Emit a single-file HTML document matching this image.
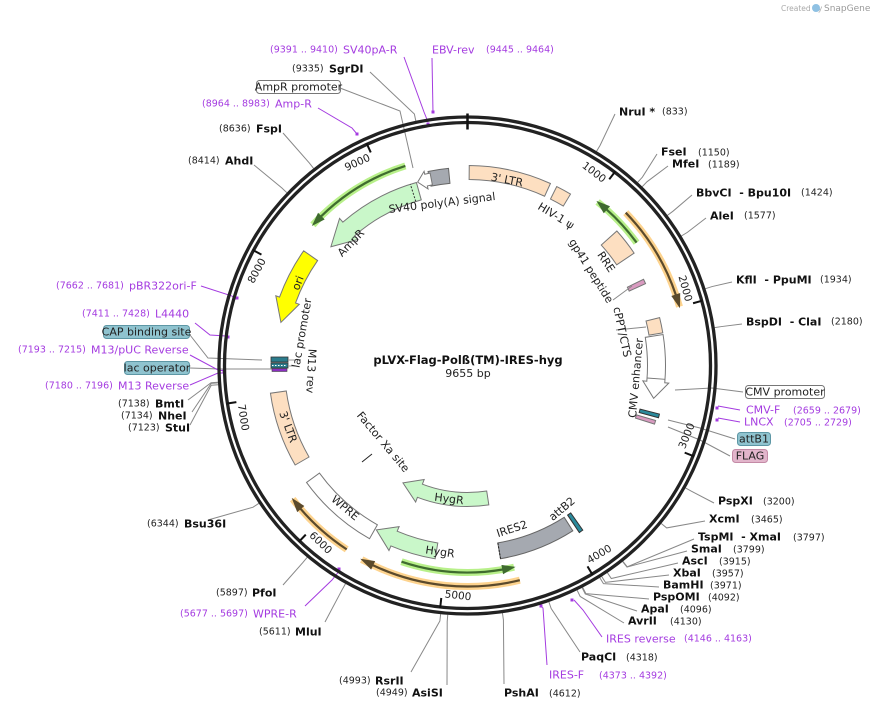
<!DOCTYPE html>
<html><head><meta charset="utf-8">
<style>
html,body{margin:0;padding:0;background:#fff;}
svg{display:block;font-family:"DejaVu Sans","Liberation Sans",sans-serif;}
.n{font-size:9.5px;fill:#222;}
.b{font-size:11px;font-weight:bold;fill:#111;}
.p{font-size:11px;fill:#a43be0;}
.pn{font-size:9.5px;fill:#a43be0;}
.f{font-size:11px;fill:#222;}
.t{font-size:10.5px;fill:#222;}
</style></head>
<body>
<svg id="s" width="879" height="710" viewBox="0 0 879 710" xmlns="http://www.w3.org/2000/svg">
<g id="g"></g>
<text x="781" y="11" style="font-size:7.5px;fill:#aaa">Created by</text>
<text x="824" y="11" style="font-size:9px;fill:#999">SnapGene</text>
<circle cx="816" cy="8" r="4" fill="#8fc1e3"/>
<text x="468" y="364" text-anchor="middle" style="font-size:11.5px;font-weight:bold;fill:#111">pLVX-Flag-Polß(TM)-IRES-hyg</text>
<text x="468" y="377" text-anchor="middle" style="font-size:11px;fill:#222">9655 bp</text>

<g dominant-baseline="central">
<text x="270" y="50" class="pn">(9391 .. 9410)</text><text x="343" y="50" class="p">SV40pA-R</text>
<text x="432" y="50" class="p">EBV-rev</text><text x="486" y="50" class="pn">(9445 .. 9464)</text>
<text x="292" y="69" class="n">(9335)</text><text x="329" y="69" class="b">SgrDI</text>
<text x="202" y="104" class="pn">(8964 .. 8983)</text><text x="275" y="104" class="p">Amp-R</text>
<text x="219" y="129" class="n">(8636)</text><text x="256" y="129" class="b">FspI</text>
<text x="188" y="161" class="n">(8414)</text><text x="225" y="161" class="b">AhdI</text>
<text x="619" y="112" class="b">NruI *</text><text x="662" y="112" class="n">(833)</text>
<text x="661" y="152" class="b">FseI</text><text x="698" y="153" class="n">(1150)</text>
<text x="672" y="164" class="b">MfeI</text><text x="708" y="165" class="n">(1189)</text>
<text x="696" y="193" class="b">BbvCI&#160;&#160;- Bpu10I</text><text x="801" y="193" class="n">(1424)</text>
<text x="710" y="216" class="b">AleI</text><text x="744" y="216" class="n">(1577)</text>
<text x="736" y="280" class="b">KflI&#160;&#160;- PpuMI</text><text x="820" y="280" class="n">(1934)</text>
<text x="746" y="322" class="b">BspDI&#160;&#160;- ClaI</text><text x="831" y="322" class="n">(2180)</text>
<text x="746" y="410" class="p">CMV-F</text><text x="793" y="411" class="pn">(2659 .. 2679)</text>
<text x="744" y="422" class="p">LNCX</text><text x="784" y="423" class="pn">(2705 .. 2729)</text>
<text x="718" y="501" class="b">PspXI</text><text x="763" y="502" class="n">(3200)</text>
<text x="709" y="519" class="b">XcmI</text><text x="751" y="520" class="n">(3465)</text>
<text x="698" y="537" class="b">TspMI&#160;&#160;- XmaI</text><text x="793" y="538" class="n">(3797)</text>
<text x="691" y="549" class="b">SmaI</text><text x="733" y="550" class="n">(3799)</text>
<text x="682" y="561" class="b">AscI</text><text x="719" y="562" class="n">(3915)</text>
<text x="673" y="573" class="b">XbaI</text><text x="712" y="574" class="n">(3957)</text>
<text x="663" y="585" class="b">BamHI</text><text x="710" y="586" class="n">(3971)</text>
<text x="653" y="597" class="b">PspOMI</text><text x="708" y="598" class="n">(4092)</text>
<text x="641" y="609" class="b">ApaI</text><text x="680" y="610" class="n">(4096)</text>
<text x="628" y="621" class="b">AvrII</text><text x="670" y="622" class="n">(4130)</text>
<text x="606" y="639" class="p">IRES reverse</text><text x="684" y="639" class="pn">(4146 .. 4163)</text>
<text x="581" y="657" class="b">PaqCI</text><text x="626" y="658" class="n">(4318)</text>
<text x="549" y="675" class="p">IRES-F</text><text x="599" y="676" class="pn">(4373 .. 4392)</text>
<text x="504" y="693" class="b">PshAI</text><text x="549" y="694" class="n">(4612)</text>
<text x="339" y="681" class="n">(4993)</text><text x="375" y="681" class="b">RsrII</text>
<text x="376" y="693" class="n">(4949)</text><text x="412" y="693" class="b">AsiSI</text>
<text x="259" y="632" class="n">(5611)</text><text x="295" y="632" class="b">MluI</text>
<text x="180" y="614" class="pn">(5677 .. 5697)</text><text x="253" y="614" class="p">WPRE-R</text>
<text x="216" y="593" class="n">(5897)</text><text x="252" y="593" class="b">PfoI</text>
<text x="147" y="524" class="n">(6344)</text><text x="184" y="524" class="b">Bsu36I</text>
<text x="118" y="404" class="n">(7138)</text><text x="155" y="404" class="b">BmtI</text>
<text x="121" y="416" class="n">(7134)</text><text x="158" y="416" class="b">NheI</text>
<text x="128" y="428" class="n">(7123)</text><text x="165" y="428" class="b">StuI</text>
<text x="45" y="386" class="pn">(7180 .. 7196)</text><text x="118" y="386" class="p">M13 Reverse</text>
<text x="18" y="350" class="pn">(7193 .. 7215)</text><text x="91" y="350" class="p">M13/pUC Reverse</text>
<text x="82" y="314" class="pn">(7411 .. 7428)</text><text x="155" y="314" class="p">L4440</text>
<text x="56" y="286" class="pn">(7662 .. 7681)</text><text x="129" y="286" class="p">pBR322ori-F</text>
</g>

<rect x="256.5" y="80.5" width="84" height="13" rx="3" fill="#fff" stroke="#777"/>
<text x="298.5" y="87" text-anchor="middle" dominant-baseline="central" class="f">AmpR promoter</text>
<rect x="745.5" y="385.5" width="79" height="13" rx="3" fill="#fff" stroke="#777"/>
<text x="785" y="392" text-anchor="middle" dominant-baseline="central" class="f">CMV promoter</text>
<rect x="737.5" y="432.5" width="33" height="13" rx="3" fill="#8fc3cf" stroke="#5d97a5"/>
<text x="754" y="439" text-anchor="middle" dominant-baseline="central" class="f">attB1</text>
<rect x="732.5" y="449.5" width="35" height="13" rx="3" fill="#e2b5cb" stroke="#c48aa6"/>
<text x="750" y="456" text-anchor="middle" dominant-baseline="central" class="f">FLAG</text>
<rect x="103.5" y="325.5" width="86" height="13" rx="3" fill="#8fc3cf" stroke="#5d97a5"/>
<text x="146.5" y="332" text-anchor="middle" dominant-baseline="central" class="f">CAP binding site</text>
<rect x="124.5" y="361.5" width="65" height="13" rx="3" fill="#8fc3cf" stroke="#5d97a5"/>
<text x="157" y="368" text-anchor="middle" dominant-baseline="central" class="f">lac operator</text>

<g class="t" text-anchor="middle" dominant-baseline="central" id="tk">
<text transform="translate(597,170) rotate(37.3)">1000</text>
<text transform="translate(684,286) rotate(74.6)">2000</text>
<text transform="translate(686,440) rotate(-68)">3000</text>
<text transform="translate(603,553) rotate(-31)">4000</text>
<text transform="translate(458,596) rotate(6.4)">5000</text>
<text transform="translate(318,542) rotate(43.7)">6000</text>
<text transform="translate(241,417) rotate(81)">7000</text>
<text transform="translate(256,264) rotate(-61.7)">8000</text>
<text transform="translate(357,161) rotate(-24.4)">9000</text>
</g>

<g class="f" text-anchor="middle" dominant-baseline="central">
<text transform="translate(507,180) rotate(11)">3' LTR</text>
<text transform="translate(556,216) rotate(31)">HIV-1 ψ</text>
<text transform="translate(442,203) rotate(-7)">SV40 poly(A) signal</text>
<text transform="translate(351,243) rotate(-46)">AmpR</text>
<text transform="translate(298,283) rotate(-68)">ori</text>
<text transform="translate(302,333) rotate(-80)">lac promoter</text>
<text transform="translate(311,371) rotate(93)">M13 rev</text>
<text transform="translate(288,427) rotate(70)">3' LTR</text>
<text transform="translate(345,508) rotate(40)">WPRE</text>
<text transform="translate(440,552) rotate(8)">HygR</text>
<text transform="translate(512,529) rotate(-18)">IRES2</text>
<text transform="translate(562,509) rotate(-40)">attB2</text>
<text transform="translate(449,499) rotate(7)">HygR</text>
<text transform="translate(383,442) rotate(50)">Factor Xa site</text>
<text transform="translate(606,262) rotate(56)">RRE</text>
<text transform="translate(591,271) rotate(58)">gp41 peptide</text>
<text transform="translate(622,332) rotate(78)">cPPT/CTS</text>
<text transform="translate(636,378) rotate(-85)">CMV enhancer</text>
</g>
</svg>
<script>
(function(){
var NS="http://www.w3.org/2000/svg",g=document.getElementById('g');
var cx=467.5,cy=365.5;
function P(r,a){a=a*Math.PI/180;return [cx+r*Math.sin(a),cy-r*Math.cos(a)];}
function s(p){return p[0].toFixed(2)+' '+p[1].toFixed(2);}
function el(t,at){var e=document.createElementNS(NS,t);for(var k in at)e.setAttribute(k,at[k]);g.appendChild(e);return e;}
function arc(r,a1,a2){var l=Math.abs(a2-a1)>180?1:0,sw=a2>a1?1:0;return ' A'+r+' '+r+' 0 '+l+' '+sw+' '+s(P(r,a2));}
function band(r1,r2,a1,a2,fill,st){return el('path',{d:'M'+s(P(r2,a1))+arc(r2,a1,a2)+' L'+s(P(r1,a2))+arc(r1,a2,a1)+'Z',fill:fill,stroke:st||'#777','stroke-width':1});}
function arrow(r1,r2,tail,head,hl,fill,st,e){e=e||4;var d=head>tail?1:-1,nk=head-d*hl,m=(r1+r2)/2;
 return el('path',{d:'M'+s(P(r2,tail))+arc(r2,tail,nk)+' L'+s(P(r2+e,nk))+' L'+s(P(m,head))+' L'+s(P(r1-e,nk))+' L'+s(P(r1,nk))+arc(r1,nk,tail)+'Z',fill:fill,stroke:st||'#777','stroke-width':1});}
function primer(r,tail,head,halo,core){var d=head>tail?1:-1,nk=head-d*3.2;
 el('path',{d:'M'+s(P(r,tail))+arc(r,tail,head),fill:'none',stroke:halo,'stroke-width':7});
 el('path',{d:'M'+s(P(r,tail))+arc(r,tail,nk),fill:'none',stroke:core,'stroke-width':2.2});
 el('path',{d:'M'+s(P(r-4,nk))+' L'+s(P(r,head))+' L'+s(P(r+4,nk))+'Z',fill:core,stroke:core,'stroke-width':1});}
function line(a,b,c,w){return el('line',{x1:a[0],y1:a[1],x2:b[0],y2:b[1],stroke:c||'#777','stroke-width':w||1});}
function poly(pts,c,w){return el('polyline',{points:pts.map(s).join(' '),fill:'none',stroke:c||'#777','stroke-width':w||1});}
function A(pos){return pos/9655*360;}
var GR='#c9f7c9',PE='#fddfc1',GHalo='#b8f08a',GCore='#3f6b2f',OHalo='#fdd38e',OCore='#5b4a2c';

// tick labels positioning
var tks=document.getElementById('tk').getElementsByTagName('text');
for(var k=0;k<tks.length;k++){var a=A((k+1)*1000),rad=a*Math.PI/180;
 var tx=Math.cos(rad),ty=Math.sin(rad);var p=P(230,a);var x=p[0]-3*tx,y=p[1]-3*ty;
 var top=(a<90||a>270);
 tks[k].setAttribute('text-anchor',top?'end':'start');
 tks[k].setAttribute('transform','translate('+x.toFixed(2)+','+y.toFixed(2)+') rotate('+(top?a:a-180).toFixed(2)+')');}

var enz=[[833,[615,114]],[1150,[657,154]],[1189,[668,166]],[1424,[692,195]],[1577,[706,218]],[1934,[732,282]],[2180,[742,324]],
[3200,[714,503]],[3465,[705,521]],[3797,[694,539]],[3799,[687,551]],[3915,[678,563]],[3957,[669,575]],[3971,[659,587]],[4092,[649,599]],[4096,[637,611]],[4130,[624,623]],
[4318,[580,652]],[4612,[504,684]],[4993,[411,672]],[4949,[447,685]],[5611,[325,622]],[5897,[283,585]],[6344,[208,520]],
[7138,[188,400]],[7134,[192,412]],[7123,[190,425]],[8414,[254,165]],[8636,[283,133]],[9335,[370,72]]];
enz.forEach(function(e){var a=A(e[0]);var p1=P(250,a),p2=P(257,a);poly([p1,p2,e[1]],'#888',1);});
poly([[340,88],[400,111],[413,168]],'#888');
poly([[743,392],[712,388],[675,390]],'#888');
poly([[735,439],[700,428],[668,420]],'#888');
poly([[730,456],[700,440],[668,427]],'#888');
poly([[190,335],[208,358],[262,360]],'#888');
poly([[190,368],[220,369],[272,369]],'#888');
var PU='#a43be0';
poly([[404,57],[424,112],[428,122]],PU);
poly([[432,58],[433,113]],PU);
poly([[318,108],[352,128],[357,134]],PU);
poly([[201,286],[232,296],[235,300]],PU);
poly([[195,323],[210,335],[226,336]],PU);
poly([[190,355],[218,370],[226,371]],PU);
poly([[190,385],[218,373],[226,373]],PU);
poly([[740,410],[718,406]],PU);poly([[740,422],[718,418]],PU);
poly([[602,637],[583,610],[574,600]],PU);
poly([[547,665],[543,608],[540,606]],PU);
poly([[305,606],[332,580],[340,570]],PU);
[[428,124],[433,112],[357,134],[237,298],[228,337],[224,371],[717,408],[717,420],[572,600],[541,606],[339,569]].forEach(function(p){el('rect',{x:p[0]-1.5,y:p[1]-1.5,width:3,height:3,fill:PU});});

el('circle',{cx:cx,cy:cy,r:248.5,fill:'none',stroke:'#222','stroke-width':3.3});
el('circle',{cx:cx,cy:cy,r:243,fill:'none',stroke:'#222','stroke-width':3.3});
line(P(236,0),P(252,0),'#111',2.5);
for(var i=1;i<=9;i++){var a=A(i*1000);line(P(234,a),P(244,a),'#111',2);}

band(186,200,0.5,24.5,PE,'#777');
band(186,200,26.5,31,PE,'#777');
band(183,198,-11.5,-5.5,'#a5a9b0','#666');
arrow(184,196,-11,-15.2,2.6,'#fff','#777',3);
arrow(172,190,-15.6,-49,8,GR,'#777',5);
line(P(172,-17.5),P(190,-17.5),'#333',1).setAttribute('stroke-dasharray','2 1.5');
primer(209,-17.3,-47.7,GHalo,GCore);
arrow(183,200,-55,-77,7,'#ffff00','#777',4);
el('rect',{x:271,y:357,width:17,height:5,fill:'#2b7c8c',stroke:'#333','stroke-width':0.8});
el('rect',{x:271,y:363,width:17,height:5,fill:'#2b7c8c',stroke:'#333','stroke-width':0.8});
el('line',{x1:272,y1:365.5,x2:287,y2:365.5,stroke:'#fff','stroke-dasharray':'1.5 1.5'});
el('rect',{x:272,y:368.5,width:15,height:3,fill:'#8b2fc0',stroke:'#444','stroke-width':0.6});
line([288,360],[296,360],'#999');line([288,366],[296,366],'#999');
band(183,199,240,262,PE,'#777');
band(183,199,209.5,234,'#fff','#777');
primer(220,213.3,232.6,OHalo,OCore);
arrow(180,196,189.5,209,6,GR,'#777',5);
band(180,196,147.5,170.3,'#a5a9b0','#666');
line(P(180,170.3),P(196,170.3),'#222',1).setAttribute('stroke-dasharray','2 1.5');
band(180,201,145,146.2,'#2b8a9c','#333');
primer(207,198.6,167,GHalo,GCore);
primer(221,166.3,208.6,OHalo,OCore);
arrow(127,141,171.3,208.8,8,GR,'#777',5);
line([362,462],[372,454],'#222',1);
primer(209,54,38.5,GHalo,GCore);
primer(220,46,74.5,OHalo,OCore);
band(180,201,48,56,PE,'#777');
band(178,196,63.9,65.3,'#d99ac0','#777');
line([613,300],[632,286],'#888');
band(184,198,76,80.5,PE,'#777');
line([616,330],[646,327],'#888');
arrow(180,198,81,100,5,'#fff','#777',4);
line(P(180,94),P(198,94),'#777');
band(178,198,104.2,105.3,'#2b8a9c','#333');
band(176,196,106.3,107.4,'#d99ac0','#777');
})();
</script>
</body></html>
